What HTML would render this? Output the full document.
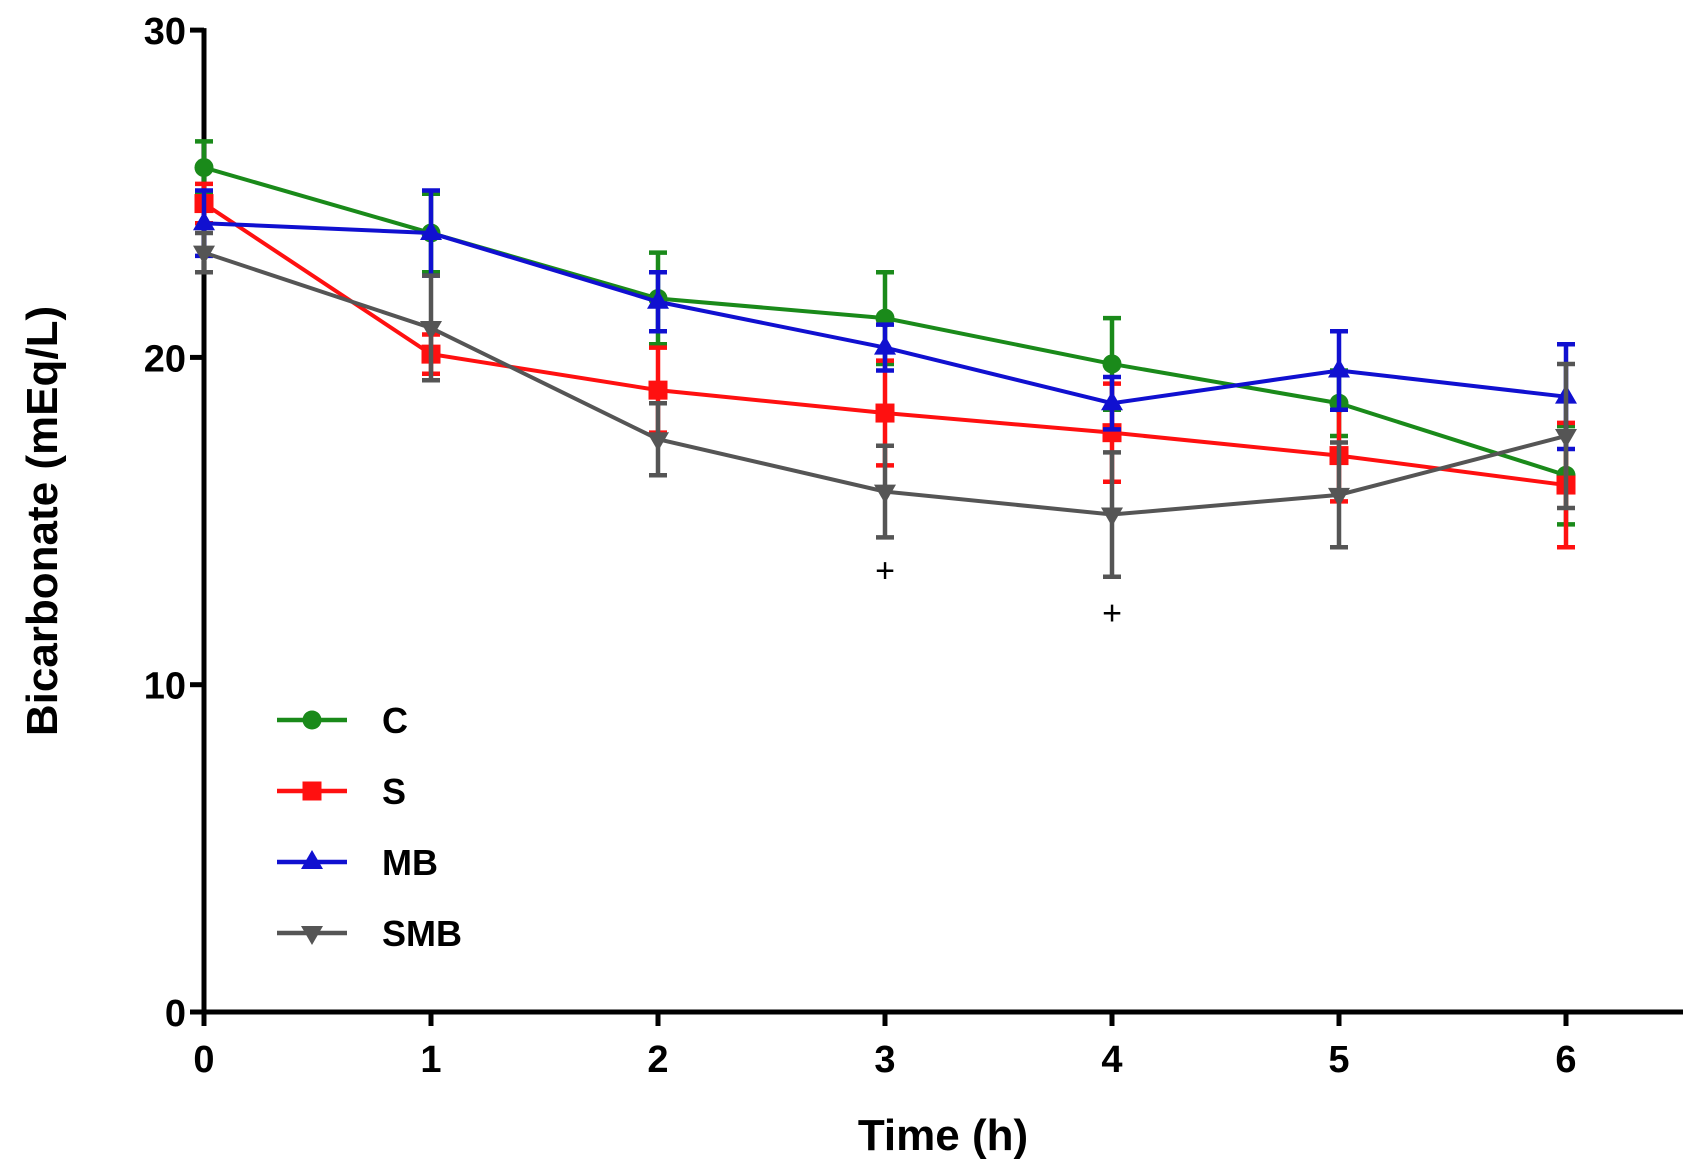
<!DOCTYPE html>
<html><head><meta charset="utf-8"><style>
html,body{margin:0;padding:0;background:#fff;}
svg{display:block;font-family:"Liberation Sans",Arial,sans-serif;font-weight:bold;}
</style></head><body>
<svg id="chart" width="1703" height="1165" viewBox="0 0 1703 1165"></svg>
<script>
const times = [0,1,2,3,4,5,6];
const seriesNames = ["C","S","MB","SMB"];
const cValues = [25.8,23.8,21.8,21.2,19.8,18.6,16.4];
const cErrors = [0.8,1.2,1.4,1.4,1.4,1.0,1.5];
const sValues = [24.7,20.1,19.0,18.3,17.7,17.0,16.1];
const sErrors = [0.6,0.6,1.3,1.6,1.5,1.4,1.9];
const mbValues = [24.1,23.8,21.7,20.3,18.6,19.6,18.8];
const mbErrors = [1.0,1.3,0.9,0.7,0.8,1.2,1.6];
const smbValues = [23.2,20.9,17.5,15.9,15.2,15.8,17.6];
const smbErrors = [0.6,1.6,1.1,1.4,1.9,1.6,2.2];
const yTicks = [0,10,20,30];
const xTicks = [0,1,2,3,4,5,6];
const sigTimes = [3,4];
const sigValues = [13.5,12.2];

const NS="http://www.w3.org/2000/svg";
const svg=document.getElementById('chart');
const X0=204,XS=227,Y0=1012,YS=32.73;
const xs=v=>X0+v*XS, ys=v=>Y0-v*YS;
function mk(tag,attrs,parent){const e=document.createElementNS(NS,tag);for(const k in attrs)e.setAttribute(k,attrs[k]);(parent||svg).appendChild(e);return e;}

let ax=mk('line',{x1:X0,y1:ys(30)-2,x2:X0,y2:Y0+2,stroke:'#000','stroke-width':5});


ax=mk('line',{x1:X0-2,y1:Y0,x2:1683,y2:Y0,stroke:'#000','stroke-width':5});


yTicks.forEach(t=>{
  const tk=mk('line',{x1:X0-14,y1:ys(t),x2:X0,y2:ys(t),stroke:'#000','stroke-width':5});
  
  
  const tx=mk('text',{x:X0-18,y:ys(t)+14,'text-anchor':'end','font-size':38});
  tx.textContent=t;
  
  
});
xTicks.forEach(t=>{
  const tk=mk('line',{x1:xs(t),y1:Y0,x2:xs(t),y2:Y0+14,stroke:'#000','stroke-width':5});
  
  
  const tx=mk('text',{x:xs(t),y:Y0+60,'text-anchor':'middle','font-size':38});
  tx.textContent=t;
  
  
});
let t=mk('text',{x:943,y:1150,'text-anchor':'middle','font-size':44});
t.textContent='Time (h)';


t=mk('text',{x:0,y:0,'text-anchor':'middle','font-size':44,transform:'translate(57,521) rotate(-90)'});
t.textContent='Bicarbonate (mEq/L)';



function marker(shape,cx,cy,color,g){
  if(shape==='circle')return mk('circle',{cx,cy,r:9.5,fill:color},g);
  if(shape==='square')return mk('rect',{x:cx-9.5,y:cy-9.5,width:19,height:19,fill:color},g);
  if(shape==='up')return mk('polygon',{points:`${cx},${cy-12} ${cx-11},${cy+7} ${cx+11},${cy+7}`,fill:color},g);
  return mk('polygon',{points:`${cx},${cy+12} ${cx-11},${cy-7} ${cx+11},${cy-7}`,fill:color},g);
}
const series=[
  {name:'C',vals:cValues,errs:cErrors,color:'#1a8a1a',shape:'circle'},
  {name:'S',vals:sValues,errs:sErrors,color:'#ff1010',shape:'square'},
  {name:'MB',vals:mbValues,errs:mbErrors,color:'#1010d0',shape:'up'},
  {name:'SMB',vals:smbValues,errs:smbErrors,color:'#555555',shape:'down'}
];
series.forEach((s,si)=>{
  const g=mk('g',{});
  
  
  times.forEach((tt,i)=>{
    const x=xs(tt),lo=ys(s.vals[i]-s.errs[i]),hi=ys(s.vals[i]+s.errs[i]);
    const e=mk('path',{d:`M${x},${lo}V${hi}M${x-9},${hi}H${x+9}M${x-9},${lo}H${x+9}`,stroke:s.color,'stroke-width':4.5,fill:'none'},g);
    
    
  });
  const ln=mk('polyline',{points:times.map((tt,i)=>xs(tt)+','+ys(s.vals[i])).join(' '),stroke:s.color,'stroke-width':4,fill:'none'},g);
  
  
  times.forEach((tt,i)=>{
    const m=marker(s.shape,xs(tt),ys(s.vals[i]),s.color,g);
    
    
  });
  const lg=mk('g',{});
  
  
  const ly=720+si*71;
  mk('line',{x1:277,y1:ly,x2:347,y2:ly,stroke:s.color,'stroke-width':4.5},lg);
  marker(s.shape,312,ly,s.color,lg);
  const lt=mk('text',{x:382,y:ly+13,'font-size':36},lg);
  lt.textContent=s.name;
});
sigTimes.forEach((tt,i)=>{
  const p=mk('text',{x:xs(tt),y:ys(sigValues[i])+12,'text-anchor':'middle','font-size':34,'font-weight':'normal'});
  p.textContent='+';
  
  
});
</script>
</body></html>
